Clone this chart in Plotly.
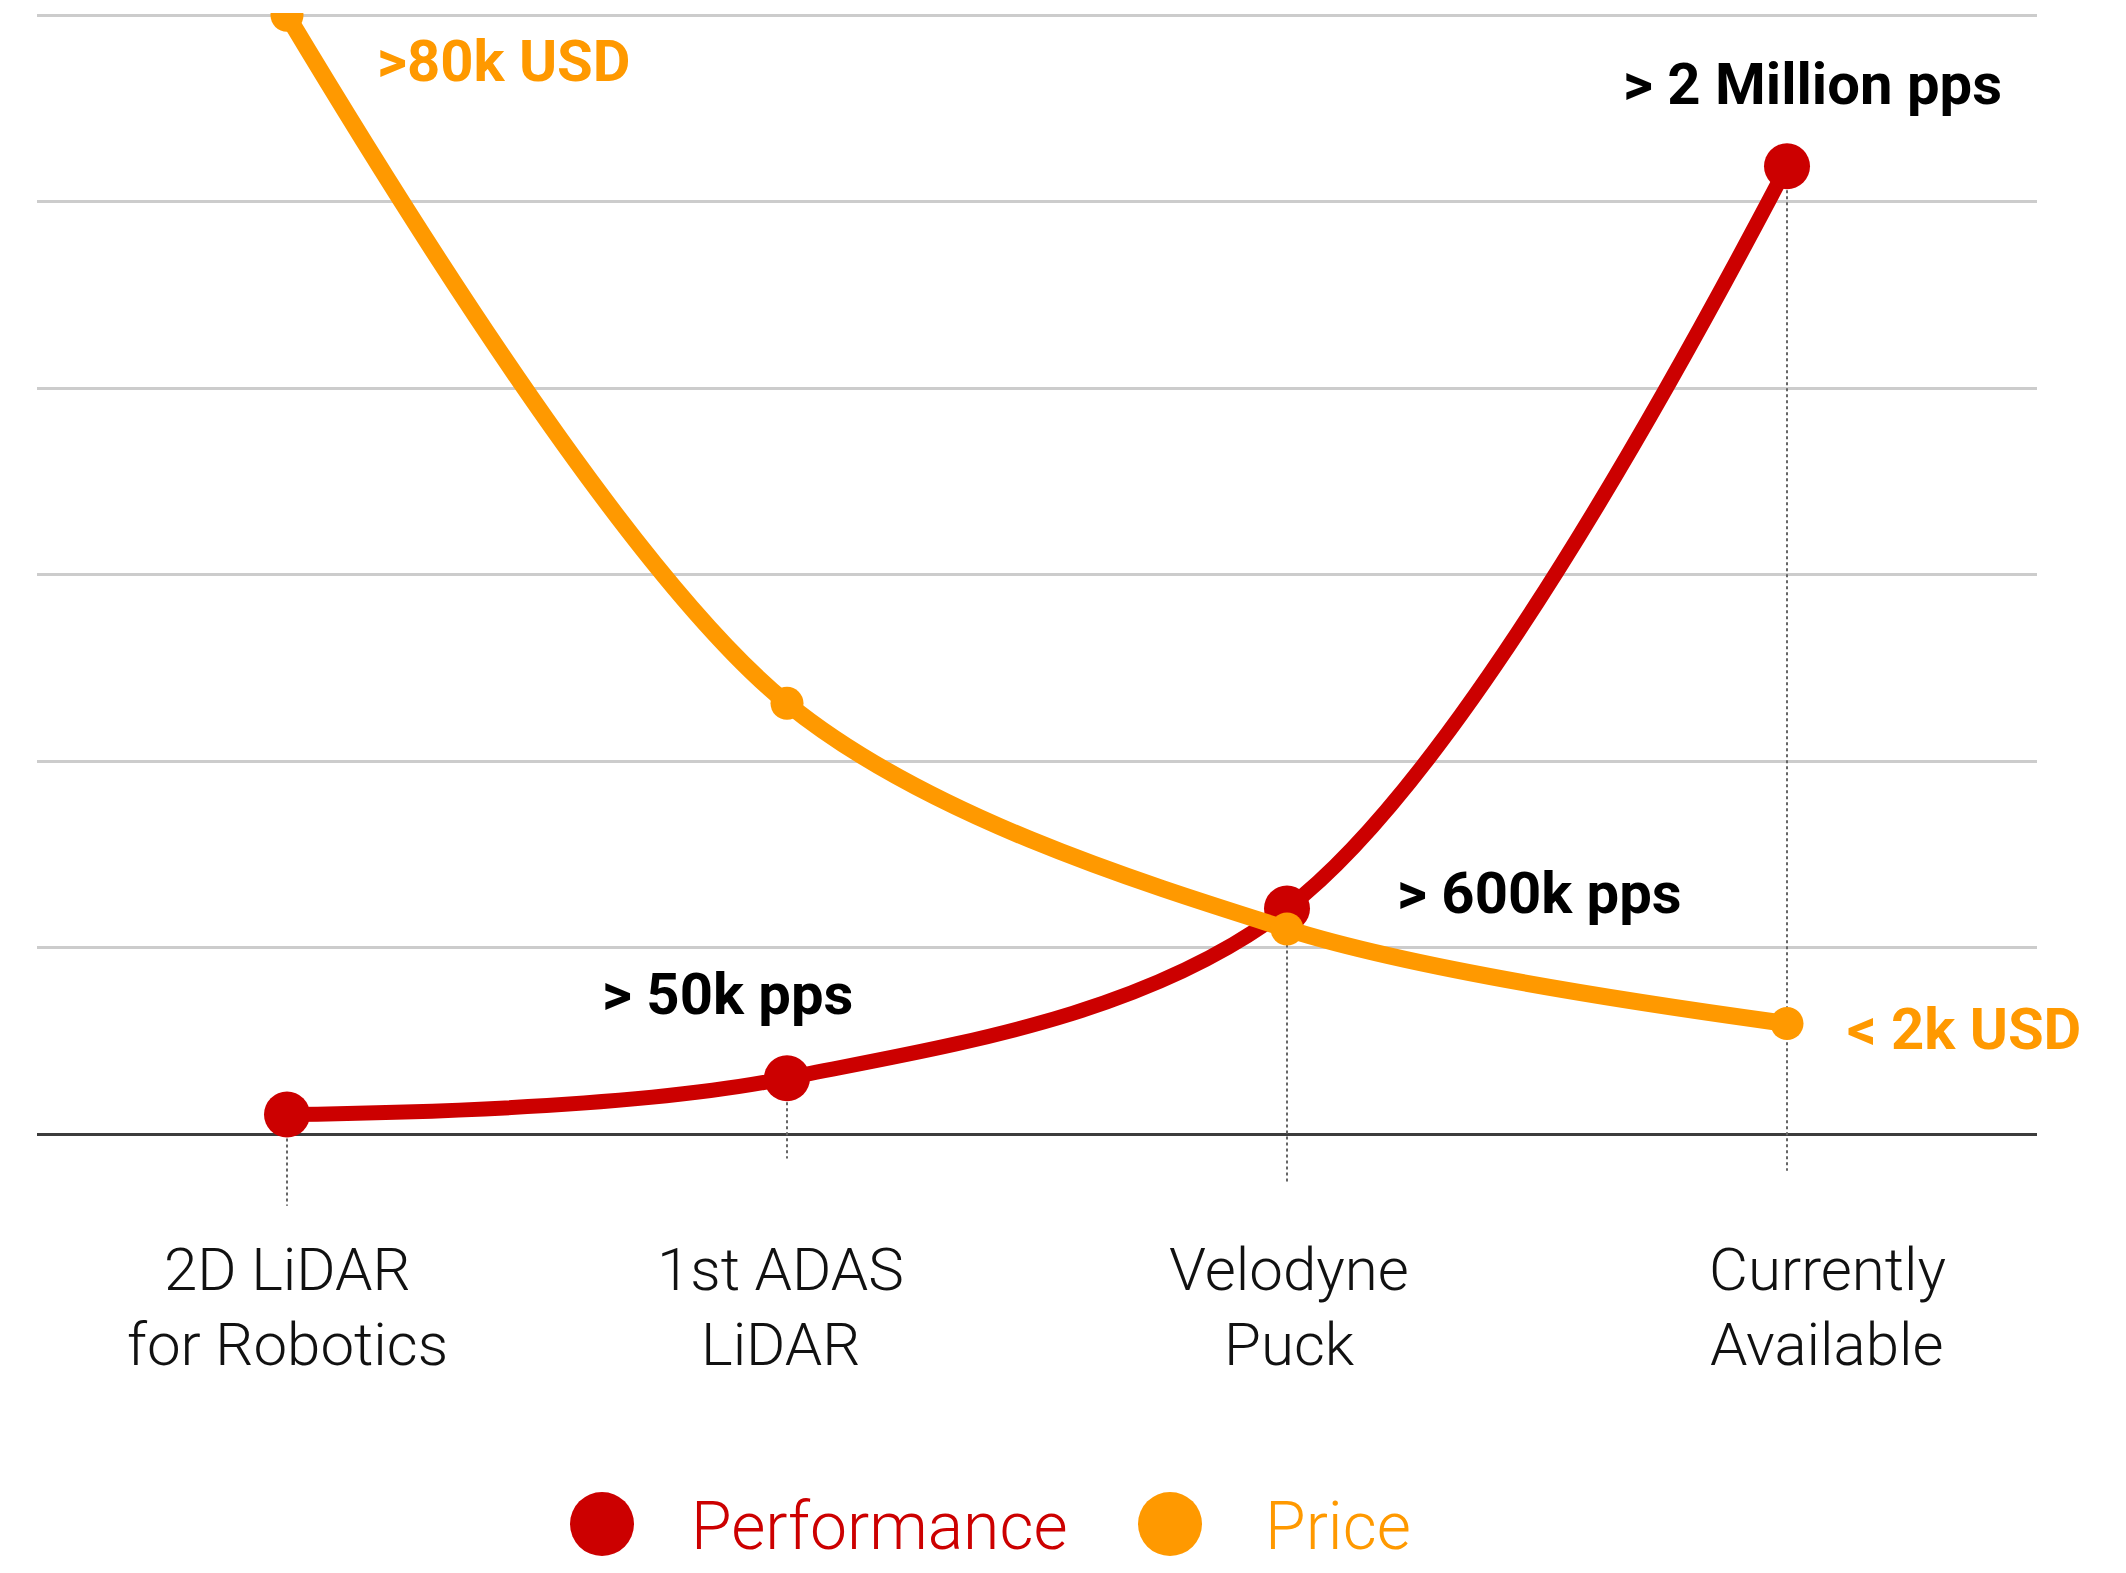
import plotly.graph_objects as go

# ---- data ----
categories = ["2D LiDAR<br>for Robotics", "1st ADAS<br>LiDAR", "Velodyne<br>Puck", "Currently<br>Available"]
performance = [0.105, 0.30, 1.21, 5.19]      # relative scale (gridline units)
price = [6.0, 2.31, 1.10, 0.593]             # relative scale (gridline units)
perf_labels = ["", "> 50k pps", "> 600k pps", "> 2 Million pps"]
price_labels = [">80k USD", "", "", "< 2k USD"]
series_names = ["Performance", "Price"]

# ---- style ----
RED = "#CC0000"
ORANGE = "#FF9900"
FONT = "Roboto"
drop_ends = [-0.384, -0.131, -0.265, -0.196]
cat_xshift = [0, -7, 2, 40]

xs = list(range(len(categories)))

OFF = 8                      # page body margin
W, H = 2126 - 2 * OFF, 1573 - 2 * OFF
ML = 37 - OFF
MR = W - (2037 - OFF)
MT = 13 - OFF
MB = H - (1218 - OFF)
YMIN, YMAX = -0.45, 6.012

fig = go.Figure()

# dotted drop lines
for i, x in enumerate(xs):
    fig.add_trace(go.Scatter(
        x=[x, x], y=[performance[i], drop_ends[i]], mode="lines",
        line=dict(color="#666666", width=2, dash="dot"),
        showlegend=False, hoverinfo="skip"))

fig.add_trace(go.Scatter(
    x=xs, y=performance, mode="lines+markers", name=series_names[0],
    line=dict(color=RED, width=15, shape="spline", smoothing=0.95),
    marker=dict(color=RED, size=46), showlegend=False))

fig.add_trace(go.Scatter(
    x=xs, y=price, mode="lines+markers", name=series_names[1],
    line=dict(color=ORANGE, width=17, shape="spline", smoothing=0.9),
    marker=dict(color=ORANGE, size=33), showlegend=False))

annotations = []
# value labels
perf_shifts = {1: (-60, 84), 2: (252, 15), 3: (25, 82)}
for i, t in enumerate(perf_labels):
    if t:
        dx, dy = perf_shifts[i]
        annotations.append(dict(x=xs[i], y=performance[i], text=t, showarrow=False,
                                xanchor="center", yanchor="middle", xshift=dx, yshift=dy,
                                font=dict(family=FONT, size=58, color="#000000", weight=700)))
price_shifts = {0: (217, -46), 3: (177, -5)}
for i, t in enumerate(price_labels):
    if t:
        dx, dy = price_shifts[i]
        annotations.append(dict(x=xs[i], y=price[i], text=t, showarrow=False,
                                xanchor="center", yanchor="middle", xshift=dx, yshift=dy,
                                font=dict(family=FONT, size=58, color=ORANGE, weight=700)))

# category labels (one annotation per line for exact line spacing)
LINE_Y = [-135, -210]   # pixel offsets of line centres from the zero line
for i, t in enumerate(categories):
    for j, line in enumerate(t.split("<br>")):
        annotations.append(dict(x=xs[i], y=0, yref="y", text=line, showarrow=False,
                                xanchor="center", yanchor="middle",
                                xshift=cat_xshift[i], yshift=LINE_Y[j],
                                font=dict(family=FONT, size=60, color="#111111", weight=300)))

# legend (manual, large symbols); coordinates given in screen pixels
plot_w = W - ML - MR
plot_h = H - MT - MB
def px_to_paper(px, py):
    return (px - OFF - ML) / plot_w, (H - MB - (py - OFF)) / plot_h

shapes = []
legend_items = [(series_names[0], RED, 602, 689), (series_names[1], ORANGE, 1170, 1263)]
for name, col, cx, tx in legend_items:
    pxp, pyp = px_to_paper(cx, 1524)
    shapes.append(dict(type="circle", xref="paper", yref="paper",
                       xsizemode="pixel", ysizemode="pixel",
                       xanchor=pxp, yanchor=pyp, x0=-32, x1=32, y0=-32, y1=32,
                       fillcolor=col, line=dict(width=0)))
    tpx, tpy = px_to_paper(tx, 1526)
    annotations.append(dict(x=tpx, y=tpy, xref="paper", yref="paper", text=name,
                            showarrow=False, xanchor="left", yanchor="middle",
                            font=dict(family=FONT, size=66, color=col, weight=300)))

fig.update_layout(
    width=W, height=H,
    margin=dict(l=ML, r=MR, t=MT, b=MB, pad=0),
    paper_bgcolor="white", plot_bgcolor="white",
    showlegend=False,
    annotations=annotations, shapes=shapes,
    xaxis=dict(range=[-0.5, 3.5], showgrid=False, zeroline=False,
               showticklabels=False, ticks="", showline=False, fixedrange=True),
    yaxis=dict(range=[YMIN, YMAX], tickvals=[0, 1, 2, 3, 4, 5, 6],
               showticklabels=False, ticks="", showgrid=True,
               gridcolor="#cccccc", gridwidth=3,
               zeroline=True, zerolinecolor="#3c3c3c", zerolinewidth=3,
               showline=False, fixedrange=True),
)

fig.write_html("out.html")
